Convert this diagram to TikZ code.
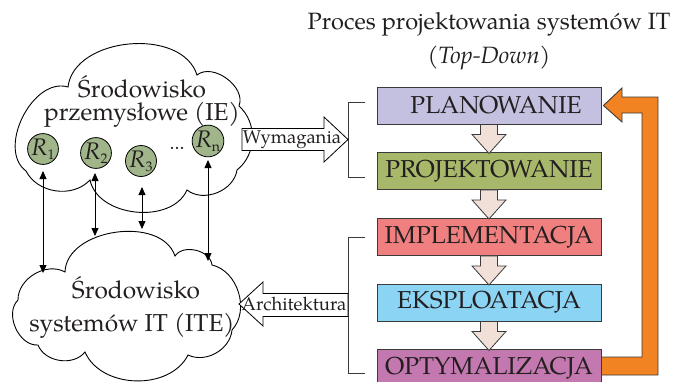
\documentclass[tikz,border=0pt]{standalone}
\usepackage{fontspec}
\setmainfont{TeX Gyre Pagella}
\usetikzlibrary{arrows.meta,calc}
\definecolor{txt}{HTML}{231F20}
\definecolor{boxline}{HTML}{3A3A3A}
\definecolor{cplan}{HTML}{C4C0E0}
\definecolor{cproj}{HTML}{A8B86A}
\definecolor{cimpl}{HTML}{F08080}
\definecolor{ceksp}{HTML}{8CD4F4}
\definecolor{copt}{HTML}{C478B0}
\definecolor{cpeach}{HTML}{F0E0D8}
\definecolor{corange}{HTML}{F28322}
\definecolor{cgreen}{HTML}{A0B68A}
\newcommand\downblock[1]{\draw[peachblock] (#1) ++(-8.5,0) -- ++(0,10) -- ++(-8.5,0) -- ++(17,19) -- ++(17,-19) -- ++(-8.5,0) -- ++(0,-10) -- cycle;}
\newcommand\rlab[1]{{\itshape R}\raisebox{-4pt}{\fontsize{14}{14}\selectfont #1}}
\begin{document}
\begin{tikzpicture}[x=1pt,y=-1pt,
  stepbox/.style={draw=boxline, line width=0.9pt, minimum width=224pt, minimum height=37pt, inner sep=0pt, font=\fontsize{24.5}{26}\selectfont, text=txt},
  peachblock/.style={draw=boxline, fill=cpeach, line width=0.8pt, line join=miter},
  cloudline/.style={draw=black, line width=0.9pt, fill=white},
  cloudtext/.style={font=\fontsize{24.5}{23.5}\selectfont, text=txt, inner sep=0pt, align=center},
  rnode/.style={circle, draw=black, line width=0.8pt, fill=cgreen, minimum size=29pt, inner sep=0pt, font=\fontsize{24}{24}\selectfont, text=txt},
  linkarrow/.style={draw=black, line width=0.8pt, {Triangle[length=8pt,width=7pt]}-{Triangle[length=8pt,width=7pt]}},
  bigarrow/.style={draw=black, line width=0.8pt, fill=white, line join=miter},
  arrowtext/.style={font=\fontsize{18.5}{20}\selectfont, text=txt, inner sep=0pt},
  bracket/.style={draw=boxline, line width=0.9pt}
]
\useasboundingbox (0,0) rectangle (678,381);
\clip (0,0) rectangle (678,381);

% title
\node[font=\fontsize{23.6}{26}\selectfont, text=txt] (title) at (489,24) {Proces projektowania systemów IT};
\node[font=\fontsize{23.6}{26}\selectfont, text=txt] (subtitle) at (489,58) {(\textit{Top-Down})};

% upper cloud
\path[cloudline] (26,171) to[bend left=80] (68,87)
  to[bend left=78] (197,75)
  to[bend left=75] (239,106)
  to[bend left=50] (237,170)
  to[bend left=60] (187,190)
  to[bend left=72] (90,180)
  to[bend left=55] (26,171) -- cycle;
% lower cloud
\path[cloudline] (38,345) to[bend left=70] (18,300)
  to[bend left=60] (65,272)
  to[bend left=80] (175,256)
  to[bend left=70] (212,265)
  to[bend left=60] (232,330)
  to[bend left=55] (188,355)
  to[bend left=65] (85,352)
  to[bend left=60] (38,345) -- cycle;

\node[cloudtext] (ie) at (142,101.5) {Środowisko\\przemysłowe (IE)};
\node[cloudtext] (ite1) at (136,288) {Środowisko};
\node[cloudtext] (ite2) at (132,326) {systemów IT (ITE)};

% resources
\node[rnode] (r1) at (43,149) {\rlab{1}};
\node[rnode] (r2) at (96,153) {\rlab{2}};
\node[rnode] (r3) at (141,161) {\rlab{3}};
\node[rnode] (rn) at (208,141) {\rlab{n}};
\node[cloudtext, font=\fontsize{20}{20}\selectfont] (dots) at (177,148) {...};

% vertical links
\coordinate (a1t) at (43,171); \coordinate (a1b) at (43,273);
\coordinate (a2t) at (95,173); \coordinate (a2b) at (95,236);
\coordinate (a3t) at (142,187); \coordinate (a3b) at (142,229);
\coordinate (a4t) at (208,160); \coordinate (a4b) at (208,261);
\draw[linkarrow] (a1t) -- (a1b);
\draw[linkarrow] (a2t) -- (a2b);
\draw[linkarrow] (a3t) -- (a3b);
\draw[linkarrow] (a4t) -- (a4b);

% process boxes
\node[stepbox, fill=cplan] (plan) at (489,105.5) {\hspace*{14pt}PLANOWANIE};
\node[stepbox, fill=cproj] (proj) at (489,171) {PROJEKTOWANIE};
\node[stepbox, fill=cimpl] (impl) at (489,237) {IMPLEMENTACJA};
\node[stepbox, fill=ceksp] (eksp) at (489,302.5) {EKSPLOATACJA};
\node[stepbox, fill=copt] (opt) at (489,368) {OPTYMALIZACJA};

\downblock{plan.south}
\downblock{proj.south}
\downblock{impl.south}
\downblock{eksp.south}

% brackets
\coordinate (br1) at (348,139.5);
\coordinate (br2) at (348,305);
\draw[bracket] (365,102) -- (348,102) -- (348,177) -- (365,177);
\draw[bracket] (365,237) -- (348,237) -- (348,373) -- (365,373);

% Wymagania arrow
\draw[bigarrow] (242,128.5) -- (324,128.5) -- (324,117) -- (br1) -- (324,162) -- (324,150.5) -- (242,150.5) -- cycle;
\node[arrowtext] (wym) at (292,140) {Wymagania};
% Architektura arrow
\draw[bigarrow] (br2) ++(0,-11.5) -- (263,293.5) -- (263,282) -- (239,304) -- (263,326) -- (263,316.5) -- (348,316.5) -- cycle;
\node[arrowtext] (arch) at (294,304) {Architektura};

% feedback arrow
\draw[draw=boxline, line width=0.9pt, fill=corange, line join=miter]
  ($(opt.east)+(0,-11)$) -- (642,357) -- (642,113) -- (622,113) -- (622,122) -- ($(plan.east)+(2,0)$) -- (622,88) -- (622,97) -- (658,97) -- (658,375) -- ($(opt.east)+(0,7)$) -- cycle;
\end{tikzpicture}
\end{document}
